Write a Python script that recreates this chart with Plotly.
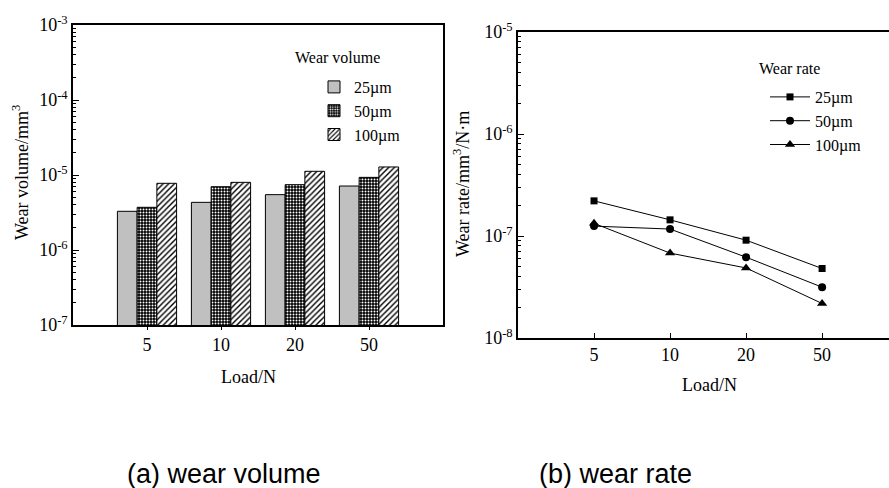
import plotly.graph_objects as go

loads = ["5", "10", "20", "50"]
vol_25 = [3.28e-6, 4.32e-6, 5.47e-6, 7.13e-6]
vol_50 = [3.71e-6, 6.98e-6, 7.43e-6, 9.30e-6]
vol_100 = [7.75e-6, 7.98e-6, 1.12e-5, 1.28e-5]
rate_25 = [2.21e-7, 1.44e-7, 9.1e-8, 4.8e-8]
rate_50 = [1.25e-7, 1.17e-7, 6.2e-8, 3.15e-8]
rate_100 = [1.33e-7, 6.8e-8, 4.86e-8, 2.18e-8]
names = ["25µm", "50µm", "100µm"]

W, H = 889, 488
SERIF = "Liberation Serif, Times New Roman, serif"
SANS = "Liberation Sans, Arial, sans-serif"

def px(x):
    return x / W

def py(y):
    return 1 - y / H

fig = go.Figure()

bar_styles = [
    dict(color="#c0c0c0", line=dict(color="black", width=1)),
    dict(color="black", line=dict(color="black", width=1),
         pattern=dict(shape=".", fgcolor="white", bgcolor="black", size=3, solidity=0.35)),
    dict(color="white", line=dict(color="black", width=1),
         pattern=dict(shape="/", fgcolor="black", bgcolor="white", size=4, solidity=0.35)),
]
for name, vals, st in zip(names, [vol_25, vol_50, vol_100], bar_styles):
    fig.add_trace(go.Bar(x=loads, y=vals, name=name, marker=st,
                         xaxis="x", yaxis="y", legend="legend"))

symbols = ["square", "circle", "triangle-up"]
sizes = [7, 8, 9]
for name, vals, sym, sz in zip(names, [rate_25, rate_50, rate_100], symbols, sizes):
    fig.add_trace(go.Scatter(x=loads, y=vals, name=name, mode="lines+markers",
                             line=dict(color="black", width=1),
                             marker=dict(symbol=sym, size=sz, color="black"),
                             xaxis="x2", yaxis="y2", legend="legend2"))

# empty helper traces so the minor-tick overlay axes get drawn
fig.add_trace(go.Scatter(x=[], y=[], xaxis="x", yaxis="y3", showlegend=False, hoverinfo="skip"))
fig.add_trace(go.Scatter(x=[], y=[], xaxis="x2", yaxis="y4", showlegend=False, hoverinfo="skip"))

def decade_vals(lo, hi):
    major = [10.0 ** e for e in range(lo, hi + 1)]
    minor = [m * 10.0 ** e for e in range(lo, hi) for m in range(2, 10)]
    text = ["10<sup>%d</sup>" % e for e in range(lo, hi + 1)]
    return major, minor, text

maj1, min1, txt1 = decade_vals(-7, -3)
maj2, min2, txt2 = decade_vals(-8, -5)

tickfont = dict(family=SERIF, size=18, color="black")
legfont = dict(family=SERIF, size=16, color="black")

common = dict(automargin=False, showgrid=False, zeroline=False)

fig.update_layout(
    template="none",
    width=W, height=H, margin=dict(l=0, r=0, t=0, b=0, pad=0, autoexpand=False),
    paper_bgcolor="white", plot_bgcolor="white",
    bargap=0.2, bargroupgap=0, barmode="group",
    xaxis=dict(domain=[px(73), px(443)], range=[-1, 4], type="category",
               showline=True, linecolor="black", linewidth=1.5, mirror=True,
               ticks="outside", ticklen=3, tickcolor="black",
               tickfont=tickfont, anchor="y", **common),
    yaxis=dict(domain=[py(325), py(25)], type="log", range=[-7, -3],
               showline=True, linecolor="black", linewidth=1.5, mirror=True,
               ticks="inside", ticklen=6, tickcolor="black",
               tickmode="array", tickvals=maj1, ticktext=txt1,
               tickfont=tickfont, anchor="x", **common),
    yaxis3=dict(overlaying="y", anchor="x", side="left", type="log", range=[-7, -3],
                showline=False, ticks="inside", ticklen=3, tickcolor="black",
                tickmode="array", tickvals=min1, showticklabels=False, **common),
    xaxis2=dict(domain=[px(518), 1.0], range=[-1, 3.88], type="category",
                showline=True, linecolor="black", linewidth=1.5, mirror=True,
                ticks="inside", ticklen=5, tickcolor="black",
                tickfont=tickfont, anchor="y2", **common),
    yaxis2=dict(domain=[py(338), py(32)], type="log", range=[-8, -5],
                showline=True, linecolor="black", linewidth=1.5, mirror=False,
                ticks="inside", ticklen=6, tickcolor="black",
                tickmode="array", tickvals=maj2, ticktext=txt2,
                tickfont=tickfont, anchor="x2", **common),
    yaxis4=dict(overlaying="y2", anchor="x2", side="left", type="log", range=[-8, -5],
                showline=False, ticks="inside", ticklen=3, tickcolor="black",
                tickmode="array", tickvals=min2, showticklabels=False, **common),
    legend=dict(x=px(314), y=py(70), xanchor="left", yanchor="top",
                bgcolor="rgba(0,0,0,0)", font=legfont, borderwidth=0,
                tracegroupgap=0, itemwidth=30),
    legend2=dict(x=px(765), y=py(80), xanchor="left", yanchor="top",
                 bgcolor="rgba(0,0,0,0)", font=legfont, borderwidth=0,
                 tracegroupgap=0, itemwidth=40),
    showlegend=True,
)

ann = [
    dict(text="Wear volume", x=px(337), y=py(58), font=dict(family=SERIF, size=16)),
    dict(text="Wear rate", x=px(789), y=py(68), font=dict(family=SERIF, size=16)),
    dict(text="Wear volume/mm<sup>3</sup>", x=px(20), y=py(173), textangle=-90,
         font=dict(family=SERIF, size=18)),
    dict(text="Wear rate/mm<sup>3</sup>/N·m", x=px(461), y=py(184), textangle=-90,
         font=dict(family=SERIF, size=18)),
    dict(text="Load/N", x=px(248), y=py(377), font=dict(family=SERIF, size=18)),
    dict(text="Load/N", x=px(709), y=py(385), font=dict(family=SERIF, size=18)),
    dict(text="(a) wear volume", x=px(224), y=py(474), font=dict(family=SANS, size=27)),
    dict(text="(b) wear rate", x=px(615), y=py(474), font=dict(family=SANS, size=27)),
]
for a in ann:
    a.update(xref="paper", yref="paper", showarrow=False, xanchor="center", yanchor="middle")
    a["font"]["color"] = "black"
    fig.add_annotation(**a)

fig.write_html("out.html",
               post_script="document.body.style.margin='0';document.body.style.overflow='hidden';")
